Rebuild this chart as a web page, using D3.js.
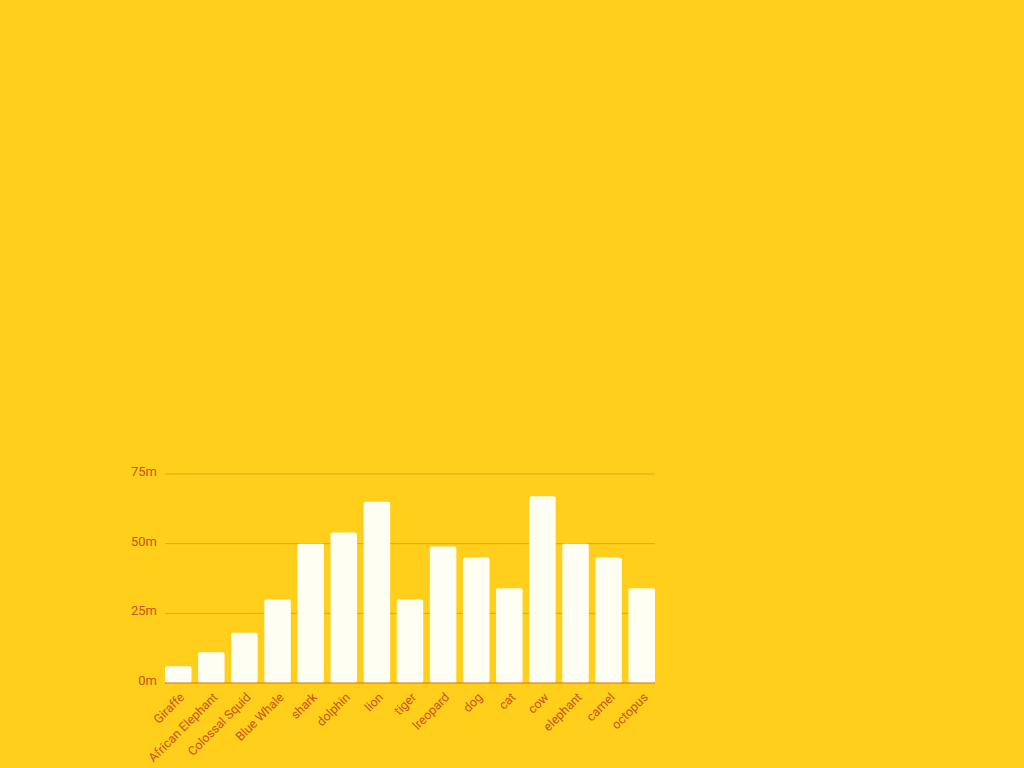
<!DOCTYPE html>
<html>
<head>
<meta charset="utf-8">
<script src="https://cdn.jsdelivr.net/npm/d3@7"></script>
<style>
  html, body { margin: 0; padding: 0; background: #FFCF1B; }
  svg { display: block; }
  text { font-family: Roboto, "Noto Sans", sans-serif; }
</style>
</head>
<body>
<svg id="chart" width="1024" height="768"></svg>
<script>
const categories = ["Giraffe", "African Elephant", "Colossal Squid", "Blue Whale", "shark", "dolphin", "lion", "tiger", "lreopard", "dog", "cat", "cow", "elephant", "camel", "octopus"];
const values = [6, 11, 18, 30, 50, 54, 65, 30, 49, 45, 34, 67, 50, 45, 34];
const yTicks = [0, 25, 50, 75];

const svg = d3.select("#chart");
svg.append("rect").attr("width", 1024).attr("height", 768).attr("fill", "#FFCF1B");

const x = d3.scaleBand().domain(categories).range([165, 655]).paddingInner(0.2).paddingOuter(0);
const y = d3.scaleLinear().domain([0, 75]).range([683, 474]);

const textColor = "#C9521F";

// gridlines
svg.append("g").selectAll("line").data(yTicks.filter(d => d > 0)).join("line")
  .attr("x1", 165).attr("x2", 655)
  .attr("y1", d => y(d)).attr("y2", d => y(d))
  .attr("stroke", "#E3A514").attr("stroke-width", 1);

// y axis labels
const yAxis = d3.axisLeft(y).tickValues(yTicks).tickFormat(d => d + "m").tickSize(0).tickPadding(8);
const gy = svg.append("g").attr("transform", "translate(165,0)").call(yAxis);
gy.select(".domain").remove();
gy.selectAll("text").attr("fill", textColor).attr("font-size", 13).attr("font-family", "Roboto, sans-serif")
  .attr("dy", "0.12em");

// bars
svg.append("g").selectAll("rect").data(values).join("rect")
  .attr("x", (d, i) => x(categories[i]))
  .attr("y", d => y(d))
  .attr("width", x.bandwidth())
  .attr("height", d => y(0) - y(d))
  .attr("rx", 2).attr("ry", 2)
  .attr("fill", "#FFFEF2");

// baseline
svg.append("line").attr("x1", 165).attr("x2", 655).attr("y1", y(0)).attr("y2", y(0))
  .attr("stroke", "#D2761A").attr("stroke-width", 1);

// x axis labels
const xAxis = d3.axisBottom(x).tickSize(0).tickPadding(0);
const gx = svg.append("g").attr("transform", `translate(0,${y(0)})`).call(xAxis);
gx.select(".domain").remove();
gx.selectAll("text")
  .attr("fill", textColor).attr("font-size", 12.5).attr("font-family", "Roboto, sans-serif")
  .attr("text-anchor", "end")
  .attr("dy", 0)
  .attr("y", 0)
  .attr("transform", "translate(7,15) rotate(-45)");
</script>
</body>
</html>
